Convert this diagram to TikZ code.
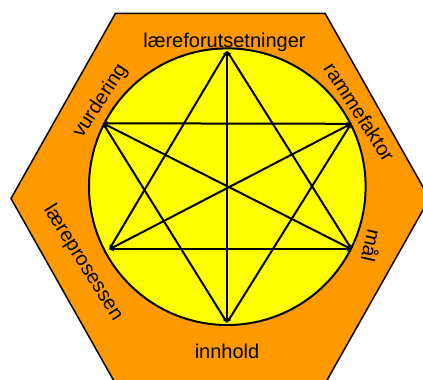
\documentclass[tikz,border=0pt]{standalone}
\usepackage{fontspec}
\setmainfont{Liberation Sans}
\usetikzlibrary{arrows.meta}
\definecolor{hexorange}{HTML}{FF9900}
\definecolor{circyellow}{HTML}{FFFF00}
\tikzset{
  lbl/.style={inner sep=0pt, font=\fontsize{20}{22}\selectfont},
  link/.style={line width=2pt, {Latex[length=5pt,width=4.5pt]}-{Latex[length=5pt,width=4.5pt]}, shorten <=-0.5pt, shorten >=-0.5pt},
  pt/.style={coordinate}
}
\begin{document}
\begin{tikzpicture}[x=1pt,y=-1pt]
\useasboundingbox (0,0) rectangle (423,380);
\clip (0,0) rectangle (423,380);
\draw[fill=hexorange, line width=1.5pt] (11,198.5) -- (115.5,13.3) -- (325,13.3) -- (429.5,198.5) -- (325,383.7) -- (115.5,383.7) -- cycle;
\draw[fill=circyellow, line width=2pt] (227.3,186.7) circle (138.3);
\node[pt] (top) at (227,51) {};
\node[pt] (ul) at (103,123.3) {};
\node[pt] (ur) at (351,123.8) {};
\node[pt] (ll) at (109.3,249.3) {};
\node[pt] (lr) at (351.7,249.3) {};
\node[pt] (bot) at (227,322.7) {};
\draw[link] (top) -- (bot);
\draw[link] (top) -- (ll);
\draw[link] (top) -- (lr);
\draw[link] (ul) -- (ur);
\draw[link] (ul) -- (lr);
\draw[link] (ul) -- (bot);
\draw[link] (ur) -- (ll);
\draw[link] (ur) -- (bot);
\draw[link] (ll) -- (lr);
\node[lbl] (l1) at (224.5,42) {læreforutsetninger};
\node[lbl] (l2) at (227,351.5) {innhold};
\node[lbl, rotate=57] (l3) at (100.5,101) {vurdering};
\node[lbl, rotate=-57] (l4) at (359.5,112) {rammefaktor};
\node[lbl, rotate=-103] (l5) at (372,246) {mål};
\node[lbl, rotate=-58] (l6) at (83,263) {læreprosessen};
\end{tikzpicture}
\end{document}
